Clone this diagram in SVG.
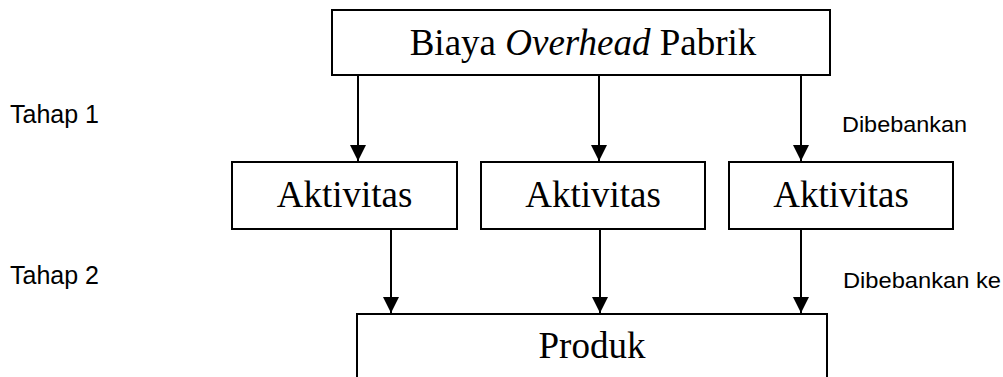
<svg xmlns="http://www.w3.org/2000/svg" width="1003" height="377" viewBox="0 0 1003 377">
<style>
.box{fill:#fff;stroke:#000;stroke-width:2}
.serif{font-family:"Liberation Serif","Times New Roman",serif;font-size:37px;fill:#000;text-anchor:middle}
.sans{font-family:"Liberation Sans",Arial,sans-serif;fill:#000}
.conn{stroke:#000;stroke-width:2;fill:none}
</style>
<defs>
<marker id="arrow" markerUnits="userSpaceOnUse" markerWidth="16" markerHeight="16" refX="15" refY="7.5" orient="auto" viewBox="0 0 15 15">
<path d="M0,0 L15,7.5 L0,15 z" fill="#000"/>
</marker>
</defs>
<rect width="1003" height="377" fill="#fff"/>
<g id="connectors">
<line class="conn" x1="358" y1="75" x2="358" y2="161" marker-end="url(#arrow)"/>
<line class="conn" x1="599" y1="75" x2="599" y2="161" marker-end="url(#arrow)"/>
<line class="conn" x1="801" y1="75" x2="801" y2="161" marker-end="url(#arrow)"/>
<line class="conn" x1="391" y1="229" x2="391" y2="313" marker-end="url(#arrow)"/>
<line class="conn" x1="600" y1="229" x2="600" y2="313" marker-end="url(#arrow)"/>
<line class="conn" x1="801" y1="229" x2="801" y2="313" marker-end="url(#arrow)"/>
</g>
<g id="node-overhead">
<rect class="box" x="332" y="10" width="498" height="65"/>
<text class="serif" x="583" y="55">Biaya <tspan font-style="italic">Overhead</tspan> Pabrik</text>
</g>
<g id="node-aktivitas1">
<rect class="box" x="232" y="162" width="225" height="67"/>
<text class="serif" x="344.5" y="207">Aktivitas</text>
</g>
<g id="node-aktivitas2">
<rect class="box" x="481" y="162" width="224" height="67"/>
<text class="serif" x="593" y="207">Aktivitas</text>
</g>
<g id="node-aktivitas3">
<rect class="box" x="729" y="162" width="224" height="67"/>
<text class="serif" x="841" y="207">Aktivitas</text>
</g>
<g id="node-produk">
<rect class="box" x="357" y="314" width="470" height="80"/>
<text class="serif" x="592" y="358">Produk</text>
</g>
<g id="labels">
<text class="sans" x="10" y="123" font-size="25">Tahap 1</text>
<text class="sans" x="10" y="284" font-size="25">Tahap 2</text>
<text class="sans" x="842" y="132" font-size="22" textLength="125" lengthAdjust="spacingAndGlyphs">Dibebankan</text>
<text class="sans" x="843" y="288" font-size="22" textLength="158" lengthAdjust="spacingAndGlyphs">Dibebankan ke</text>
</g>
</svg>
